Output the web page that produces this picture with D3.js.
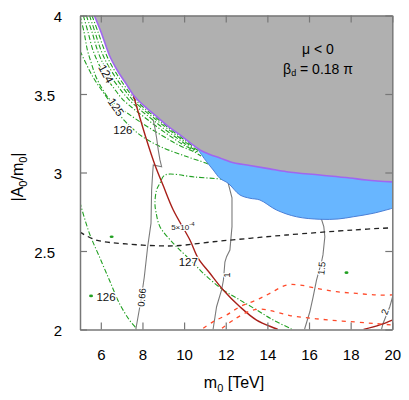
<!DOCTYPE html>
<html><head><meta charset="utf-8">
<script src="https://cdn.jsdelivr.net/npm/d3@7"></script>
<style>
body{margin:0;background:#fff;}
svg{display:block;font-family:"Liberation Sans",Arial,Helvetica,sans-serif;}
</style></head><body>
<svg id="chart" width="409" height="400"></svg>
<script>
// ---------- data ----------
const xTicks = [6, 8, 10, 12, 14, 16, 18, 20];
const yTicks = [2, 2.5, 3, 3.5, 4];

// excluded-region boundary (purple line)
const excludedBoundary = [[5.686,4.0],[6.008,3.895],[6.41,3.747],[6.78,3.653],[7.21,3.566],[7.56,3.494],[8.12,3.42],[8.68,3.357],[9.22,3.296],[9.80,3.239],[10.28,3.19],[10.76,3.143],[11.24,3.115],[11.72,3.093],[12.20,3.069],[13.16,3.045],[14.12,3.023],[14.92,3.005],[16.52,2.984],[17.96,2.965],[18.76,2.952],[20.0,2.94]];
// lower edge of the blue region
const blueLower = [[10.68,3.143],[11.08,3.069],[11.40,3.016],[11.72,2.963],[12.12,2.931],[12.68,2.857],[13.16,2.836],[13.64,2.825],[14.44,2.761],[15.40,2.718],[16.52,2.702],[17.40,2.704],[18.12,2.718],[19.08,2.74],[20.0,2.772]];

// Higgs-mass contours (green dash-dot)
const mh126Upper = [[5.0,3.775],[5.624,3.608],[6.104,3.513],[6.584,3.424],[7.064,3.341],[7.544,3.277],[8.024,3.226],[8.84,3.166],[10.04,3.105],[11.048,3.06],[11.2,3.05]];
const mh125 = [[5.0,4.0],[5.192,3.895],[5.355,3.78],[5.542,3.697],[5.749,3.615],[6.046,3.538],[6.411,3.468],[7.011,3.404],[7.645,3.344],[8.346,3.283],[9.061,3.226],[9.781,3.172],[10.491,3.131],[10.81,3.105]];
const mh124 = [[5.158,4.0],[5.384,3.895],[5.619,3.78],[5.878,3.697],[6.205,3.615],[6.622,3.538],[7.035,3.468],[7.587,3.404],[8.173,3.344],[8.778,3.283],[9.397,3.226],[10.021,3.172],[10.635,3.131]];
const mh123a = [[5.302,4.0],[5.576,3.895],[5.835,3.78],[6.094,3.697],[6.469,3.615],[6.886,3.538],[7.323,3.468],[7.851,3.404],[8.413,3.344],[8.994,3.283],[9.589,3.226],[10.165,3.172],[10.731,3.131]];
const mh123b = [[5.456,4.0],[5.720,3.895],[6.003,3.78],[6.286,3.697],[6.661,3.615],[7.078,3.538],[7.491,3.468],[8.019,3.404],[8.581,3.344],[9.162,3.283],[9.733,3.226],[10.285,3.172],[10.827,3.131]];
const mh123c = [[5.576,4.0],[5.864,3.895],[6.171,3.78],[6.454,3.697],[6.824,3.615],[7.217,3.538],[7.621,3.468],[8.144,3.404],[8.701,3.344],[9.258,3.283],[9.829,3.226],[10.376,3.172]];
const mh127 = [[11.95,2.957],[10.52,2.971],[9.08,2.984],[8.84,2.931],[8.68,2.889],[8.60,2.804],[8.65,2.748],[8.84,2.655],[9.48,2.549],[9.80,2.506],[10.40,2.43],[10.92,2.358],[11.88,2.252],[12.68,2.188],[13.48,2.125],[14.28,2.061],[15.08,2.008],[15.2,2.0]];
const mh126Lower = [[4.99,2.812],[5.45,2.613],[5.93,2.464],[6.41,2.315],[6.89,2.167],[7.37,2.061],[7.69,2.008],[7.72,2.0]];
const greenDots = [[5.53,2.214],[6.52,2.591],[17.80,2.362]];

// gray solid contours
const ratio066 = [[8.52,3.334],[8.60,3.282],[8.68,3.22],[8.76,3.143],[8.84,3.08],[8.92,3.037],[8.52,3.048],[8.49,2.995],[8.44,2.889],[8.41,2.676],[8.25,2.527],[8.09,2.336],[7.93,2.188],[7.69,2.008],[7.68,2.0]];
const ratio1 = [[12.05,2.97],[12.12,2.931],[12.30,2.838],[12.30,2.655],[12.20,2.506],[12.04,2.464],[11.96,2.43],[11.89,2.315],[11.80,2.252],[11.56,2.145],[11.40,2.008],[11.39,2.0]];
const ratio15 = [[16.55,2.73],[16.60,2.702],[16.71,2.655],[16.76,2.591],[16.67,2.475],[16.60,2.43],[16.36,2.315],[16.20,2.209],[16.04,2.113],[15.80,2.008],[15.79,2.0]];
const ratio2 = [[20.04,2.22],[19.88,2.145],[19.56,2.04],[19.48,2.0]];

// dark red solid (5x10^-4)
const red5e4 = [[7.56,3.494],[8.20,3.207],[8.60,3.048],[9.00,2.915],[9.48,2.761],[10.28,2.570],[10.68,2.453],[11.24,2.358],[11.88,2.252],[12.68,2.145],[13.48,2.06],[14.36,2.008],[14.5,2.0]];
const red5e4b = [[18.62,2.0],[19.40,2.029],[20.0,2.06]];

// red dashed
const redDashUpper = [[10.92,2.008],[11.40,2.050],[12.04,2.092],[12.68,2.145],[13.48,2.188],[14.12,2.230],[14.92,2.283],[15.56,2.283],[16.36,2.262],[17.32,2.241],[18.28,2.230],[19.24,2.220],[20.0,2.220]];
const redDashLower = [[11.82,2.008],[12.44,2.067],[13.16,2.118],[13.64,2.130],[14.22,2.118],[15.08,2.089],[16.04,2.073],[17.0,2.060],[18.20,2.048],[19.16,2.038],[20.0,2.029]];

// black dashed
const blackDash = [[5.0,2.62],[5.77,2.570],[7.21,2.545],[9.13,2.532],[9.8,2.535],[11.40,2.559],[13.16,2.581],[14.92,2.602],[18.12,2.634],[20.0,2.648]];

// contour labels: [text, x value, y value]
const contourLabels = [["124",6.25,3.629],["125",6.73,3.417],["126",7.06,3.274],["127",10.20,2.432],["126",6.25,2.209]];
const ratioLabels = [["0.66",7.97,2.204],["1",12.04,2.347],["1.5",16.60,2.390],["2",19.64,2.113]];
const labelAngles = {"124":62,"125":55,"0.66":-85,"1":-90,"1.5":-85,"2":-70};

// ---------- drawing ----------
const svg = d3.select("#chart");
const L = 80, R = 392.3, T = 15.5, B = 329.5;
const x = d3.scaleLinear().domain([5,20]).range([L,R]);
const y = d3.scaleLinear().domain([2,4]).range([B,T]);

svg.append("defs").append("clipPath").attr("id","clip")
  .append("rect").attr("x",L).attr("y",T).attr("width",R-L).attr("height",B-T);
const g = svg.append("g").attr("clip-path","url(#clip)");

const smooth = d3.line().x(d=>x(d[0])).y(d=>y(d[1])).curve(d3.curveCatmullRom.alpha(0.5));
const straight = d3.line().x(d=>x(d[0])).y(d=>y(d[1]));
const mono = d3.line().x(d=>x(d[0])).y(d=>y(d[1])).curve(d3.curveMonotoneX);

// green
const green = "#22a022";
[mh126Upper, mh125, mh124, mh123a, mh123b, mh123c, mh127, mh126Lower].forEach(a=>{
  g.append("path").attr("d",smooth(a)).attr("fill","none").attr("stroke",green)
   .attr("stroke-width",1.1).attr("stroke-dasharray","5,2,1.2,2");
});
// gray contours
[ratio066, ratio1, ratio15, ratio2].forEach(a=>{
  g.append("path").attr("d",straight(a)).attr("fill","none").attr("stroke","#7a7a7a").attr("stroke-width",1.1);
});
// red solid
[red5e4, red5e4b].forEach(a=>{
  g.append("path").attr("d",smooth(a)).attr("fill","none").attr("stroke","#a8201a").attr("stroke-width",1.4);
});
// red dashed
[redDashUpper, redDashLower].forEach(a=>{
  g.append("path").attr("d",smooth(a)).attr("fill","none").attr("stroke","#ff4a2a")
   .attr("stroke-width",1.3).attr("stroke-dasharray","4,5");
});
// black dashed
g.append("path").attr("d",smooth(blackDash)).attr("fill","none").attr("stroke","#222")
  .attr("stroke-width",1.3).attr("stroke-dasharray","5,4");

// blue allowed region
g.append("path")
  .attr("d", smooth(blueLower) + "L" + x(20) + "," + y(3.3) + "L" + x(10.6) + "," + y(3.3) + "Z")
  .attr("fill","#68b6ff");
// gray excluded region
g.append("path")
  .attr("d", d3.area().x(d=>x(d[0])).y0(d=>y(d[1])).y1(y(4)).curve(d3.curveMonotoneX)(excludedBoundary))
  .attr("fill","#b0b0b0");
g.append("path").attr("d",smooth(blueLower)).attr("fill","none").attr("stroke","#4a7fd6").attr("stroke-width",1);
g.append("path").attr("d",mono(excludedBoundary)).attr("fill","none").attr("stroke","#a066f0").attr("stroke-width",1.6);

g.selectAll("ellipse.dot").data(greenDots).enter().append("ellipse")
  .attr("cx",d=>x(d[0])).attr("cy",d=>y(d[1])).attr("rx",2).attr("ry",1.3).attr("fill",green);

// labels
function addLabel(t, xv, yv, size){
  const a = labelAngles[t] || 0;
  svg.append("text").attr("transform",`translate(${x(xv)},${y(yv)}) rotate(${a})`)
    .attr("text-anchor","middle").attr("dy","0.35em").attr("font-size",size)
    .attr("fill","#111").attr("stroke","#fff").attr("stroke-width",2.5)
    .attr("paint-order","stroke").text(t);
}
contourLabels.forEach(d=>addLabel(d[0],d[1],d[2],11.5));
ratioLabels.forEach(d=>addLabel(d[0],d[1],d[2],9.5));
const lbl = svg.append("text").attr("x",x(9.94)).attr("y",y(2.653)+3).attr("text-anchor","middle")
  .attr("font-size",8).attr("fill","#222").attr("stroke","#fff").attr("stroke-width",2).attr("paint-order","stroke");
lbl.append("tspan").text("5×10");
lbl.append("tspan").attr("dy",-4).attr("font-size",6).text("-4");

// axes
const tickCol = "#777";
const ax = svg.append("g").attr("transform",`translate(0,${B})`)
  .call(d3.axisBottom(x).tickValues(xTicks).tickSize(-7).tickSizeOuter(0).tickPadding(20).tickFormat(d3.format("d")));
svg.append("g").attr("transform",`translate(0,${T})`)
  .call(d3.axisTop(x).tickValues(xTicks).tickSize(-7).tickSizeOuter(0).tickFormat(""));
const ay = svg.append("g").attr("transform",`translate(${L},0)`)
  .call(d3.axisLeft(y).tickValues(yTicks).tickSize(-7).tickSizeOuter(0).tickPadding(18).tickFormat(d=>String(d)));
svg.append("g").attr("transform",`translate(${R},0)`)
  .call(d3.axisRight(y).tickValues(yTicks).tickSize(-7).tickSizeOuter(0).tickFormat(""));
svg.selectAll(".domain").attr("stroke",tickCol).attr("stroke-width",1.5);
svg.selectAll(".tick line").attr("stroke",tickCol).attr("stroke-width",1.2);
svg.selectAll(".tick text").attr("font-size",15).attr("fill","#000")
  .attr("font-family",'"Liberation Sans",Arial,sans-serif');
ay.selectAll(".tick text").attr("x",d=>Number.isInteger(d)? -18 : -25).attr("dy","0.4em");

// axis titles
const xt = svg.append("text").attr("x",234).attr("y",388).attr("text-anchor","middle").attr("font-size",16);
xt.append("tspan").text("m");
xt.append("tspan").attr("dy",4).attr("font-size",11).text("0");
xt.append("tspan").attr("dy",-4).text(" [TeV]");

const yt = svg.append("text").attr("transform","translate(23,177) rotate(-90)").attr("text-anchor","middle").attr("font-size",16);
yt.append("tspan").text("|A");
yt.append("tspan").attr("dy",4).attr("font-size",11).text("0");
yt.append("tspan").attr("dy",-4).text("/m");
yt.append("tspan").attr("dy",4).attr("font-size",11).text("0");
yt.append("tspan").attr("dy",-4).text("|");

// annotation
svg.append("text").attr("x",318).attr("y",54).attr("text-anchor","middle").attr("font-size",14).text("μ < 0");
const bt = svg.append("text").attr("x",318).attr("y",74).attr("text-anchor","middle").attr("font-size",14);
bt.append("tspan").text("β");
bt.append("tspan").attr("font-size",9).attr("dy",2).text("d");
bt.append("tspan").attr("dy",-2).text(" = 0.18 π");
</script>
</body></html>
